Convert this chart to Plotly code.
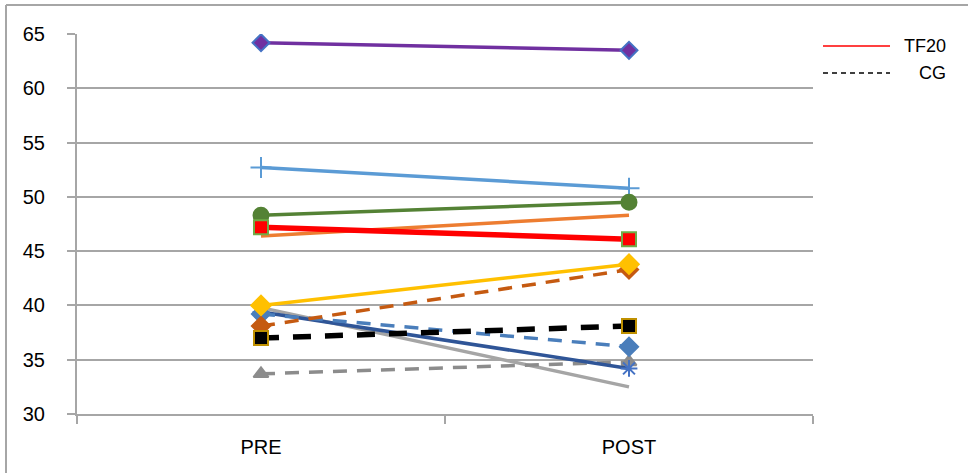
import plotly.graph_objects as go

categories = ["PRE", "POST"]

# individual series (PRE, POST)
purple_vals = [64.2, 63.5]
lightblue_vals = [52.7, 50.8]
green_vals = [48.3, 49.5]
orange_vals = [46.4, 48.3]
red_vals = [47.2, 46.1]
gold_vals = [40.0, 43.8]
brown_vals = [38.1, 43.3]
steel_vals = [39.2, 36.2]
darkblue_vals = [39.4, 34.2]
gray_vals = [39.8, 32.5]
black_vals = [37.0, 38.1]
graydash_vals = [33.7, 34.8]

y_ticks = [30, 35, 40, 45, 50, 55, 60, 65]
legend_labels = ["TF20", "CG"]

FONT = "Liberation Sans"

series = [
    # values, line color, width, dash, marker symbol, marker fill, marker outline, marker size
    (gray_vals, "#A5A5A5", 3.5, "solid", None, None, None, 0),
    (graydash_vals, "#8C8C8C", 3.5, "14px,10px", "triangle-up", "#8C8C8C", "#8C8C8C", 13),
    (orange_vals, "#ED7D31", 3.5, "solid", None, None, None, 0),
    (lightblue_vals, "#5B9BD5", 3.5, "solid", "cross-thin", "#5B9BD5", "#5B9BD5", 15),
    (purple_vals, "#7030A0", 3.5, "solid", "diamond", "#7030A0", "#4472C4", 13),
    (darkblue_vals, "#2F5597", 3.5, "solid", "asterisk-open", "#4472C4", "#4472C4", 14),
    (steel_vals, "#4A7EBB", 3.5, "14px,10px", "diamond", "#4A7EBB", "#4A7EBB", 14),
    (brown_vals, "#C55A11", 3.5, "14px,10px", "diamond", "#C55A11", "#C55A11", 14),
    (gold_vals, "#FFC000", 3.5, "solid", "diamond", "#FFC000", "#FFC000", 15),
    (green_vals, "#548235", 3.5, "solid", "circle", "#548235", "#548235", 15),
    (red_vals, "#FF0000", 5.5, "solid", "square", "#FF0000", "#70AD47", 14),
    (black_vals, "#000000", 5.5, "18px,14px", "square", "#000000", "#BF9000", 14),
]

fig = go.Figure()
for vals, col, w, dash, sym, fill, outline, size in series:
    mode = "lines+markers" if sym else "lines"
    marker = dict(symbol=sym, color=fill, size=size,
                  line=dict(color=outline, width=2)) if sym else None
    fig.add_trace(go.Scatter(
        x=categories, y=vals, mode=mode,
        line=dict(color=col, width=w, dash=dash),
        marker=marker, showlegend=False, hoverinfo="skip"))

# plot area: x 77..813, y 34..414
L, R, T, B = 77, 813, 34, 414
W, H = R - L, B - T
def px(x):
    return (x - L) / W
def py(y):
    return (B - y) / H

shapes = [
    # chart frame (top and left edges visible)
    dict(type="line", xref="paper", yref="paper", x0=px(6), x1=px(968), y0=py(5), y1=py(5),
         line=dict(color="#A6A6A6", width=2)),
    dict(type="line", xref="paper", yref="paper", x0=px(6), x1=px(6), y0=py(5), y1=py(473),
         line=dict(color="#A6A6A6", width=2)),
    # legend samples
    dict(type="line", xref="paper", yref="paper", x0=px(823), x1=px(890), y0=py(46), y1=py(46),
         line=dict(color="#FF0000", width=1.5)),
    dict(type="line", xref="paper", yref="paper", x0=px(823), x1=px(890), y0=py(73), y1=py(73),
         line=dict(color="#000000", width=1.5, dash="5px,4px")),
]
annotations = [
    dict(xref="paper", yref="paper", x=px(948), y=py(46), text=legend_labels[0],
         showarrow=False, xanchor="right", yanchor="middle",
         font=dict(family=FONT, size=18, color="#000000")),
    dict(xref="paper", yref="paper", x=px(948), y=py(73), text=legend_labels[1],
         showarrow=False, xanchor="right", yanchor="middle",
         font=dict(family=FONT, size=18, color="#000000")),
]

fig.update_layout(
    width=968, height=473,
    margin=dict(l=L, r=968 - R, t=T, b=473 - B),
    paper_bgcolor="white", plot_bgcolor="white",
    font=dict(family=FONT, size=20, color="#000000"),
    shapes=shapes, annotations=annotations,
    xaxis=dict(type="category", range=[-0.5, 1.5], showgrid=False,
               showline=True, linecolor="#A6A6A6", linewidth=2,
               ticks="outside", tickson="boundaries", ticklen=8,
               tickcolor="#A6A6A6", tickwidth=1.5, ticklabelstandoff=14,
               tickfont=dict(family=FONT, size=20), fixedrange=True),
    yaxis=dict(range=[30, 65], tickvals=y_ticks, showgrid=True,
               gridcolor="#A6A6A6", gridwidth=1.5,
               showline=True, linecolor="#A6A6A6", linewidth=2,
               ticks="outside", ticklen=8, tickcolor="#A6A6A6", tickwidth=1.5,
               ticklabelstandoff=18,
               zeroline=False, tickfont=dict(family=FONT, size=20),
               fixedrange=True),
)

fig.write_html("out.html", config={"displayModeBar": False},
               post_script="document.body.style.margin='0';document.body.style.padding='0';")
